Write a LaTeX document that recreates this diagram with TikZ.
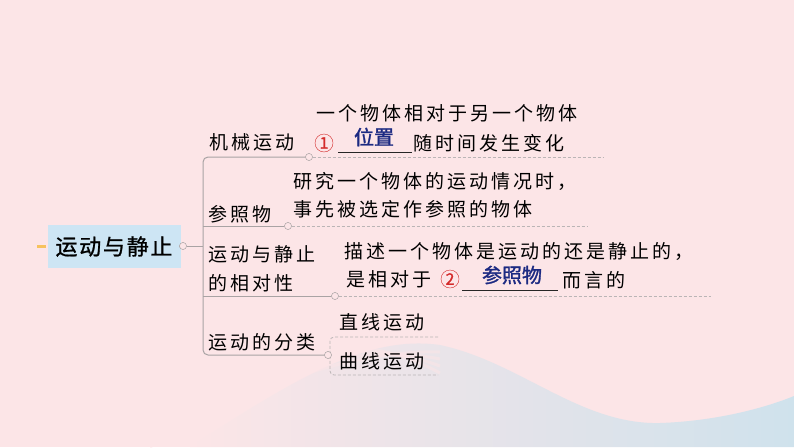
\documentclass[tikz,border=0pt]{standalone}
\usepackage{fontspec}
\usetikzlibrary{positioning}
\setmainfont{Noto Sans CJK SC}
\newfontfamily\bodyfont[LetterSpace=16]{Noto Sans CJK SC}
\newfontfamily\rootfont[LetterSpace=8,FakeBold=1]{Noto Sans CJK SC}
\newfontfamily\ansfont[FakeBold=1.5]{Noto Sans CJK SC}
\definecolor{bgpink}{HTML}{FCE5E7}
\definecolor{wave}{HTML}{CFE2EC}
\definecolor{rootblue}{HTML}{CDE5F4}
\definecolor{linegray}{HTML}{A9A3A4}
\definecolor{ansblue}{HTML}{1C2A82}
\definecolor{numred}{HTML}{D42A2A}
\definecolor{tagorange}{HTML}{F6C25E}

\begin{document}
\begin{tikzpicture}[x=1pt, y=-1pt, font=\bodyfont\fontsize{19}{22}\selectfont]
  \tikzset{
    txt/.style={
      anchor=west,
      inner sep=0pt,
      text=black},
    ans/.style={
      anchor=center,
      inner sep=0pt,
      text=ansblue,
      font=\ansfont\fontsize{20}{22}\selectfont},
    num/.style={
      circle,
      draw=numred,
      text=numred,
      inner sep=0pt,
      minimum size=18pt,
      font=\ansfont\fontsize{16}{16}\selectfont},
    dot/.style={
      circle,
      draw=linegray,
      fill=bgpink,
      inner sep=0pt,
      minimum size=7pt},
    line/.style={
      draw=linegray,
      line width=1pt},
    dashline/.style={
      draw=linegray!80,
      line width=0.8pt,
      dash pattern=on 3pt off 2pt}}

  % background
  \fill[bgpink] (0,0) rectangle (794,447);
  \useasboundingbox (0,0) rectangle (794,447);
  \shade[left color=bgpink, right color=wave]
    (190,447) .. controls (300,375) and (370,335) .. (440,345)
    .. controls (520,362) and (580,425) .. (660,423)
    .. controls (720,421) and (770,406) .. (794,396)
    -- (794,447) -- cycle;
  \foreach \dy in {0,14,28,42}
    \draw[bgpink, opacity=0.5, line width=3pt]
      (150,447-\dy) .. controls (260,380-\dy) and (360,350-\dy/2) .. (440,352+\dy/2);

  % root
  \fill[tagorange] (37,245) rectangle (46,248);
  \node[fill=rootblue, minimum width=133pt, minimum height=43pt, inner sep=0pt,
        font=\rootfont\fontsize{22}{24}\selectfont] (root) at (114,246.5) {运动与静止};
  \node[dot] (dot0) at (183,246) {};
  \coordinate (sp) at (203,246);

  % branch labels
  \node[txt] (k1) at (209,142) {机械运动};
  \node[txt] (k2) at (208,214) {参照物};
  \node[txt] (k3a) at (208,254) {运动与静止};
  \node[txt] (k3b) at (208,283) {的相对性};
  \node[txt] (k4) at (208,342) {运动的分类};

  \node[dot] (dot1) at (309,157) {};
  \node[dot] (dot2) at (288,226) {};
  \node[dot] (dot3) at (335,296) {};
  \node[dot] (dot4) at (328,355) {};

  \coordinate (e1) at (603,157);
  \coordinate (e2) at (587,226);
  \coordinate (e3) at (711,296);

  % details
  \node[txt] (d1a) at (316,113) {一个物体相对于另一个物体};
  \node[num] (n1) at (324,143) {1};
  \coordinate (u1a) at (338,152);
  \coordinate (u1b) at (412,152);
  \node[ans] (a1) at (374,137) {位置};
  \node[txt] (d1b) at (413,143) {随时间发生变化};

  \node[txt] (d2a) at (293,181) {研究一个物体的运动情况时，};
  \node[txt] (d2b) at (293,209) {事先被选定作参照的物体};

  \node[txt] (d3a) at (344,251) {描述一个物体是运动的还是静止的，};
  \node[txt] (d3b) at (346,279) {是相对于};
  \node[num] (n2) at (450,279) {2};
  \coordinate (u2a) at (462,290);
  \coordinate (u2b) at (558,290);
  \node[ans] (a2) at (512,275) {参照物};
  \node[txt] (d3c) at (562,280) {而言的};

  \node[txt] (s1) at (339,322) {直线运动};
  \node[txt] (s2) at (339,361) {曲线运动};
  \coordinate (bt) at (438,337);
  \coordinate (bb) at (438,375);

  % connectors
  \draw[line] (root.east) -- (dot0);
  \draw[line] (dot0) -- (sp);
  \draw[line, rounded corners=5pt] (dot1) -- (sp |- dot1) -- (sp |- dot4) -- (dot4);
  \draw[line] (sp |- dot2) -- (dot2);
  \draw[line] (sp |- dot3) -- (dot3);
  \draw[dashline] (dot1) -- (e1);
  \draw[dashline] (dot2) -- (e2);
  \draw[dashline] (dot3) -- (e3);
  \draw[dashline, rounded corners=4pt] (bt) -| ([xshift=2pt]dot4.center) |- (bb);
  \draw[black!85, line width=1pt] (u1a) -- (u1b);
  \draw[black!85, line width=1pt] (u2a) -- (u2b);

  % dots on top
  \foreach \d in {dot0,dot1,dot2,dot3,dot4}
    \node[dot] at (\d) {};
\end{tikzpicture}
\end{document}
